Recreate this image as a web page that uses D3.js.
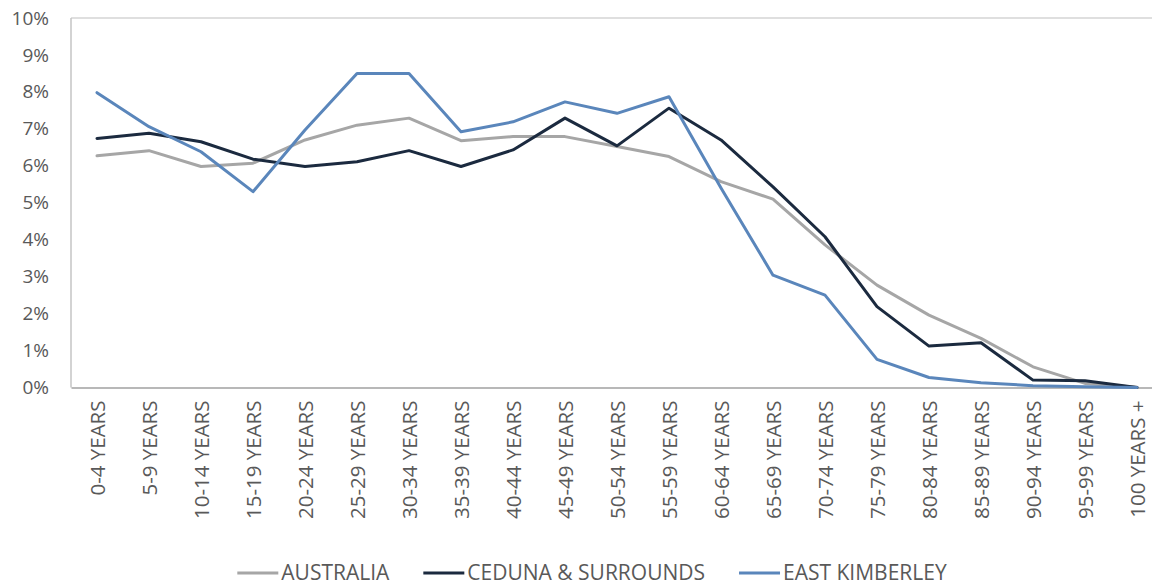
<!DOCTYPE html>
<html>
<head>
<meta charset="utf-8">
<script src="https://cdn.jsdelivr.net/npm/d3@7"></script>
<style>
  html, body { margin: 0; padding: 0; background: #fff; }
  svg { display: block; }
  text { font-family: "Open Sans", "Noto Sans", sans-serif; fill: #595959; }
</style>
</head>
<body>
<svg id="chart" width="1152" height="587"></svg>
<script>
const categories = ["0-4 YEARS","5-9 YEARS","10-14 YEARS","15-19 YEARS","20-24 YEARS","25-29 YEARS","30-34 YEARS","35-39 YEARS","40-44 YEARS","45-49 YEARS","50-54 YEARS","55-59 YEARS","60-64 YEARS","65-69 YEARS","70-74 YEARS","75-79 YEARS","80-84 YEARS","85-89 YEARS","90-94 YEARS","95-99 YEARS","100 YEARS +"];
const australia = [6.27,6.41,5.98,6.07,6.70,7.10,7.29,6.68,6.79,6.79,6.52,6.25,5.57,5.10,3.86,2.77,1.96,1.33,0.56,0.11,0.01];
const ceduna = [6.74,6.88,6.65,6.18,5.98,6.11,6.41,5.98,6.43,7.29,6.54,7.56,6.70,5.43,4.08,2.19,1.12,1.21,0.20,0.18,0.00];
const eastKimberley = [7.98,7.06,6.38,5.30,6.97,8.50,8.50,6.92,7.19,7.73,7.42,7.87,5.40,3.04,2.50,0.76,0.27,0.13,0.05,0.02,0.00];
const yTicks = [0,1,2,3,4,5,6,7,8,9,10];
const seriesNames = ["AUSTRALIA","CEDUNA & SURROUNDS","EAST KIMBERLEY"];
const seriesColors = ["#a6a6a6","#1b2a3f","#5a86bb"];

const svg = d3.select("#chart");
const plot = {left: 71, right: 1163, top: 18, bottom: 387.5};

const x = d3.scalePoint().domain(categories).range([plot.left, plot.right]).padding(0.5);
const y = d3.scaleLinear().domain([0, 10]).range([plot.bottom, plot.top]);

// frame
svg.append("line").attr("x1", plot.left).attr("x2", 1152).attr("y1", plot.top).attr("y2", plot.top)
  .attr("stroke", "#d4d4d4").attr("stroke-width", 1.5);
svg.append("line").attr("x1", plot.left).attr("x2", plot.left).attr("y1", plot.top).attr("y2", plot.bottom)
  .attr("stroke", "#c4c4c4").attr("stroke-width", 1.5);

// y axis labels
const yAxis = d3.axisLeft(y).tickValues(yTicks).tickFormat(d => d + "%").tickSize(0).tickPadding(0);
const gy = svg.append("g").attr("transform", `translate(${plot.left - 22},0)`).call(yAxis);
gy.select(".domain").remove();
gy.selectAll("text").style("font-size", "19px").attr("fill", "#595959")
  .style("font-family", '"Open Sans", sans-serif');

// x axis
const xAxis = d3.axisBottom(x).tickSize(0).tickPadding(0);
const gx = svg.append("g").attr("transform", `translate(0,${plot.bottom})`).call(xAxis);
gx.select(".domain").attr("stroke", "#a0a0a0").attr("stroke-width", 1.5);
gx.selectAll("text")
  .style("font-size", "20.5px").attr("fill", "#595959")
  .style("font-family", '"Open Sans", sans-serif')
  .attr("text-anchor", "end")
  .attr("transform", "rotate(-90)")
  .attr("x", -13).attr("y", 0).attr("dy", "0.35em");

// lines
const line = d3.line().x((d, i) => x(categories[i])).y(d => y(d));
const allSeries = [australia, ceduna, eastKimberley];
allSeries.forEach((s, i) => {
  svg.append("path").datum(s).attr("d", line)
    .attr("fill", "none").attr("stroke", seriesColors[i]).attr("stroke-width", 3)
    .attr("stroke-linejoin", "round").attr("stroke-linecap", "round");
});

// legend
const legend = svg.append("g");
const lineLen = 41, gap = 3, itemGap = 34, baseline = 580, lineY = 573;
const items = [];
seriesNames.forEach((name, i) => {
  const g = legend.append("g");
  g.append("line").attr("x1", 0).attr("x2", lineLen).attr("y1", lineY).attr("y2", lineY)
    .attr("stroke", seriesColors[i]).attr("stroke-width", 3);
  const t = g.append("text").attr("x", lineLen + gap).attr("y", baseline)
    .style("font-size", "21px").text(name);
  const w = lineLen + gap + t.node().getComputedTextLength();
  items.push({g, w});
});
const total = d3.sum(items, d => d.w) + itemGap * (items.length - 1);
let start = 592 - total / 2;
items.forEach(it => {
  it.g.attr("transform", `translate(${start},0)`);
  start += it.w + itemGap;
});
</script>
</body>
</html>
